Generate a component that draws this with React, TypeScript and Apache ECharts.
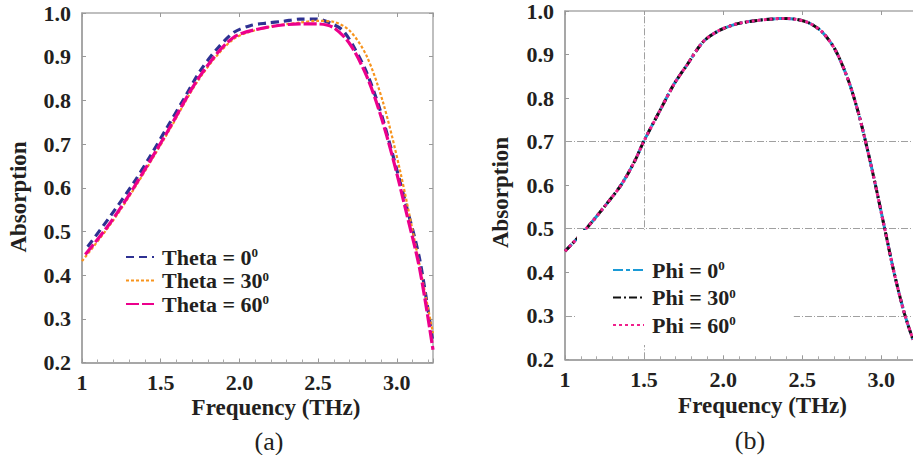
import React, { useEffect, useRef } from "react";
import * as echarts from "echarts";

// ---------- data ----------
const xTicksLabel = ["1", "1.5", "2.0", "2.5", "3.0"];

// (a) Theta
const freqT0 = [1.036, 1.18, 1.328, 1.433, 1.539, 1.645, 1.75, 1.856, 1.962, 2.068, 2.173, 2.279, 2.385, 2.49, 2.596, 2.66, 2.723, 2.808, 2.892, 2.977, 3.061, 3.146, 3.23];
const absT0 = [0.465, 0.535, 0.611, 0.672, 0.737, 0.802, 0.867, 0.917, 0.955, 0.971, 0.977, 0.981, 0.986, 0.986, 0.974, 0.959, 0.925, 0.864, 0.78, 0.672, 0.558, 0.435, 0.244];

const freqT30 = [1.0, 1.18, 1.328, 1.539, 1.75, 1.962, 2.173, 2.385, 2.49, 2.596, 2.702, 2.808, 2.913, 3.019, 3.125, 3.23];
const absT30 = [0.432, 0.516, 0.596, 0.722, 0.852, 0.94, 0.967, 0.978, 0.982, 0.98, 0.959, 0.902, 0.795, 0.642, 0.458, 0.267];

const freqT60 = [1.021, 1.18, 1.328, 1.539, 1.75, 1.962, 2.173, 2.385, 2.49, 2.596, 2.702, 2.808, 2.892, 2.977, 3.061, 3.146, 3.23];
const absT60 = [0.447, 0.52, 0.6, 0.726, 0.856, 0.944, 0.967, 0.975, 0.975, 0.967, 0.929, 0.856, 0.772, 0.665, 0.543, 0.413, 0.229];

// (b) Phi
const freqP = [1.0, 1.146, 1.25, 1.354, 1.4375, 1.5, 1.604, 1.6875, 1.771, 1.875, 1.979, 2.083, 2.1875, 2.29, 2.375, 2.458, 2.54, 2.625, 2.708, 2.79, 2.854, 2.906, 2.958, 3.02, 3.083, 3.146, 3.2];
const absP0 = [0.448, 0.505, 0.551, 0.6, 0.653, 0.702, 0.774, 0.831, 0.876, 0.93, 0.956, 0.97, 0.977, 0.981, 0.983, 0.981, 0.973, 0.952, 0.911, 0.842, 0.767, 0.691, 0.608, 0.502, 0.395, 0.305, 0.245];
const absP30 = [0.448, 0.505, 0.551, 0.6, 0.653, 0.702, 0.774, 0.831, 0.876, 0.93, 0.956, 0.97, 0.977, 0.981, 0.983, 0.981, 0.973, 0.952, 0.911, 0.842, 0.767, 0.691, 0.608, 0.502, 0.395, 0.305, 0.245];
const absP60 = [0.448, 0.505, 0.551, 0.6, 0.653, 0.702, 0.774, 0.831, 0.876, 0.93, 0.956, 0.97, 0.977, 0.981, 0.983, 0.981, 0.973, 0.952, 0.911, 0.842, 0.767, 0.691, 0.608, 0.502, 0.395, 0.305, 0.245];

const gridLinesY = [0.7, 0.5, 0.3];
const gridLinesX = [1.5];

const namesT = ["Theta = 0", "Theta = 30", "Theta = 60"];
const namesP = ["Phi = 0", "Phi = 30", "Phi = 60"];

// ---------- styling ----------
const FONT = "'Liberation Serif', 'Times New Roman', serif";
const TXT = "#231f20";

const zip = (xs: number[], ys: number[]) => xs.map((x, i) => [x, ys[i]]);

const xLabelFmt = (v: number) => {
  const idx = Math.round((v - 1) / 0.5);
  return Math.abs(v - (1 + idx * 0.5)) < 1e-6 && idx >= 0 && idx < xTicksLabel.length ? xTicksLabel[idx] : "";
};

const tickStyle = { show: true, inside: true, length: 4, lineStyle: { color: "#999", width: 1 } };

function bottomX(gridIndex: number, max: number) {
  return {
    type: "value",
    gridIndex,
    position: "bottom",
    min: 1,
    max,
    interval: 0.5,
    axisLine: { show: true, onZero: false, lineStyle: { color: "#8a8a8a", width: 1.5 } },
    axisTick: tickStyle,
    minorTick: { show: true, splitNumber: 5, length: 3, lineStyle: { color: "#aaa" } },
    splitLine: { show: false },
    axisLabel: {
      show: true,
      margin: 9,
      showMaxLabel: false,
      formatter: xLabelFmt,
      fontFamily: FONT,
      fontWeight: "bold",
      fontSize: 22,
      color: TXT,
    },
  };
}
function topX(gridIndex: number, max: number) {
  return {
    type: "value",
    gridIndex,
    position: "top",
    min: 1,
    max,
    interval: 0.5,
    axisLine: { show: true, onZero: false, lineStyle: { color: "#aaa", width: 1.5 } },
    axisTick: tickStyle,
    minorTick: { show: false },
    splitLine: { show: false },
    axisLabel: { show: false },
  };
}
function leftY(gridIndex: number) {
  return {
    type: "value",
    gridIndex,
    position: "left",
    min: 0.2,
    max: 1.0,
    interval: 0.1,
    axisLine: { show: true, onZero: false, lineStyle: { color: "#8a8a8a", width: 1.5 } },
    axisTick: tickStyle,
    splitLine: { show: false },
    axisLabel: {
      show: true,
      margin: 11,
      formatter: (v: number) => v.toFixed(1),
      fontFamily: FONT,
      fontWeight: "bold",
      fontSize: 22,
      color: TXT,
    },
  };
}
function rightY(gridIndex: number) {
  return {
    type: "value",
    gridIndex,
    position: "right",
    min: 0.2,
    max: 1.0,
    interval: 0.1,
    axisLine: { show: true, onZero: false, lineStyle: { color: "#aaa", width: 1.5 } },
    axisTick: tickStyle,
    splitLine: { show: false },
    axisLabel: { show: false },
  };
}

const legendRich = {
  t: { fontFamily: FONT, fontWeight: "bold", fontSize: 22, lineHeight: 22, color: TXT, padding: [0, 0, 0, 3] },
  s: { fontFamily: FONT, fontWeight: "bold", fontSize: 13, lineHeight: 13, color: TXT, verticalAlign: "top" },
};

function lineSeries(name: string, data: number[][], idx: number, color: string, type: any, width: number) {
  return {
    type: "line",
    name,
    xAxisIndex: idx,
    yAxisIndex: idx,
    data,
    smooth: 0.3,
    symbol: "none",
    showSymbol: false,
    lineStyle: { color, type, width, cap: "butt" },
    itemStyle: { color },
    z: 3,
  };
}

export default function App() {
  const ref = useRef<HTMLDivElement>(null);

  useEffect(() => {
    if (!ref.current) return;
    const chart = echarts.init(ref.current, null, { renderer: "svg" });

    const markLineData = [
      ...gridLinesY.map((v) => ({ yAxis: v })),
      ...gridLinesX.map((v) => ({ xAxis: v })),
    ];

    const legendCommon = {
      orient: "vertical",
      itemHeight: 14,
      formatter: (n: string) => `{t|${n}}{s|0}`,
      textStyle: { rich: legendRich },
      itemStyle: { opacity: 0, borderWidth: 0 },
      selectedMode: false,
    };

    const option: any = {
      animation: false,
      backgroundColor: "#fff",
      grid: [
        { left: 82, top: 13, width: 351, height: 349.5, containLabel: false },
        { left: 565, top: 8, width: 352, height: 351.3, containLabel: false },
      ],
      xAxis: [bottomX(0, 3.23), bottomX(1, 3.2), topX(0, 3.23), topX(1, 3.2)],
      yAxis: [leftY(0), leftY(1), rightY(0)],
      legend: [
        {
          ...legendCommon,
          data: namesT,
          left: 125,
          top: 246,
          itemWidth: 28,
          itemGap: 1.5,
          padding: 0,
        },
        {
          ...legendCommon,
          data: namesP,
          left: 577,
          top: 230,
          itemWidth: 31,
          itemGap: 5.5,
          padding: [29, 58, 9, 35],
          backgroundColor: "#fff",
        },
      ],
      series: [
        lineSeries(namesT[0], zip(freqT0, absT0), 0, "#2e3192", [8, 5], 3.2),
        lineSeries(namesT[1], zip(freqT30, absT30), 0, "#f7941d", [3, 2], 2.2),
        lineSeries(namesT[2], zip(freqT60, absT60), 0, "#ec008c", [13, 3], 3.2),
        {
          ...lineSeries(namesP[0], zip(freqP, absP0), 1, "#1b9ad6", [10, 3, 4, 3], 3),
          markLine: {
            silent: true,
            symbol: ["none", "none"],
            label: { show: false },
            lineStyle: { color: "#a0a0a0", type: [7, 2, 1, 2], width: 1 },
            data: markLineData,
            z: 1,
          },
        },
        lineSeries(namesP[1], zip(freqP, absP30), 1, "#111111", [8, 3, 2, 3], 3),
        lineSeries(namesP[2], zip(freqP, absP60), 1, "#f0208c", [3, 3], 3),
      ],
      graphic: [
        { type: "text", x: 18, y: 197, rotation: Math.PI / 2, style: { text: "Absorption", font: `bold 23px ${FONT}`, fill: TXT, textAlign: "center", textVerticalAlign: "middle" } },
        { type: "text", x: 276, y: 407, style: { text: "Frequency (THz)", font: `bold 23px ${FONT}`, fill: TXT, textAlign: "center", textVerticalAlign: "middle" } },
        { type: "text", x: 269, y: 441, style: { text: "(a)", font: `26px ${FONT}`, fill: TXT, textAlign: "center", textVerticalAlign: "middle" } },
        { type: "text", x: 500, y: 192.5, rotation: Math.PI / 2, style: { text: "Absorption", font: `bold 23px ${FONT}`, fill: TXT, textAlign: "center", textVerticalAlign: "middle" } },
        { type: "text", x: 762.5, y: 405, style: { text: "Frequency (THz)", font: `bold 23px ${FONT}`, fill: TXT, textAlign: "center", textVerticalAlign: "middle" } },
        { type: "text", x: 750, y: 440, style: { text: "(b)", font: `26px ${FONT}`, fill: TXT, textAlign: "center", textVerticalAlign: "middle" } },
      ],
    };

    chart.setOption(option);
    return () => chart.dispose();
  }, []);

  return (
    <div
      ref={ref}
      style={{ position: "absolute", left: 0, top: 0, width: 913, height: 455, overflow: "hidden" }}
    />
  );
}
